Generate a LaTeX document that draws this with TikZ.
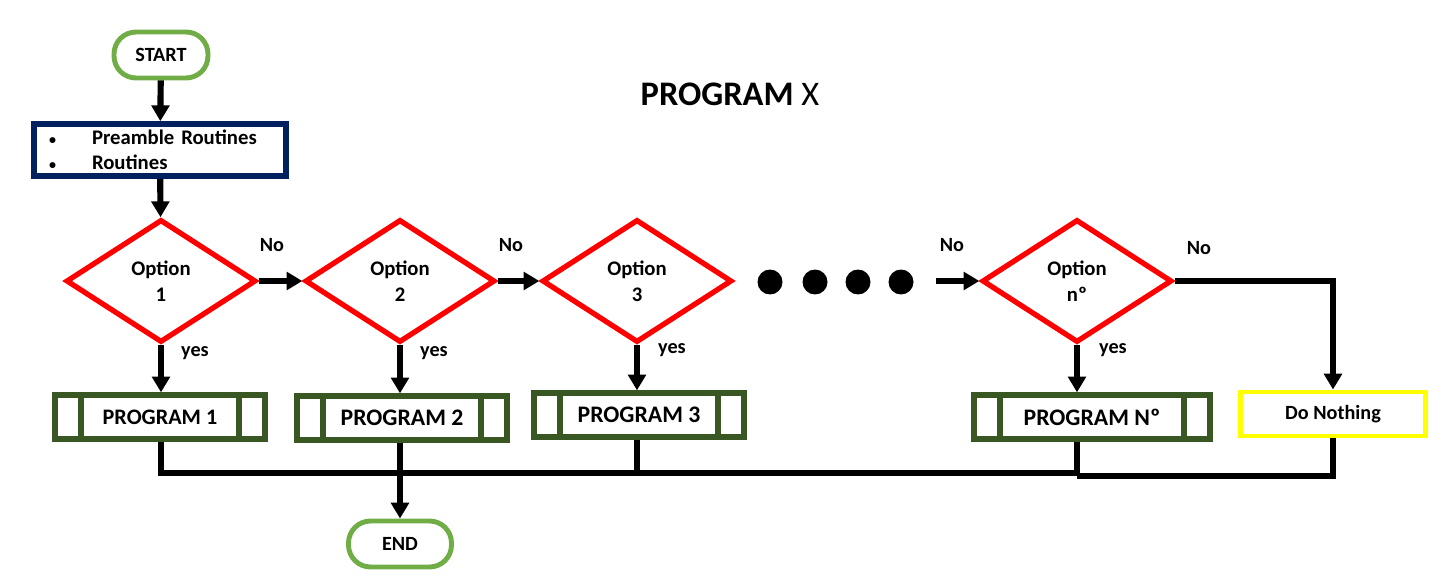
\documentclass[tikz,border=0pt]{standalone}
\usepackage{fontspec}
\setmainfont{Carlito}
\usetikzlibrary{shapes.geometric, arrows.meta, positioning}
\definecolor{termgreen}{RGB}{112,173,71}
\definecolor{prenavy}{RGB}{0,32,96}
\definecolor{progreen}{RGB}{56,87,35}
\definecolor{optred}{RGB}{255,0,0}
\definecolor{noyellow}{RGB}{255,255,0}

\begin{document}
\begin{tikzpicture}[x=0.02cm, y=-0.02cm, >={Triangle[length=9pt,width=10pt]},
    font=\bfseries\fontsize{11.5}{14}\selectfont,
    terminal/.style={draw=termgreen, line width=2.8pt, rounded corners=0.44cm, minimum height=0.92cm, inner sep=0pt},
    decision/.style={diamond, draw=optred, line width=3pt, minimum width=3.8cm, minimum height=2.46cm, inner sep=0pt, align=center, font=\bfseries\fontsize{11.8}{14.8}\selectfont},
    subprog/.style={draw=progreen, line width=3pt, minimum width=4.2cm, minimum height=0.88cm, inner sep=0pt, font=\bfseries\fontsize{13.5}{15}\selectfont,
      path picture={\draw[progreen, line width=3pt]
        ([xshift=0.52cm]path picture bounding box.north west) -- ([xshift=0.52cm]path picture bounding box.south west)
        ([xshift=-0.52cm]path picture bounding box.north east) -- ([xshift=-0.52cm]path picture bounding box.south east);}},
    flow/.style={line width=3.5pt},
    lbl/.style={font=\bfseries\fontsize{11.5}{13}\selectfont}]
      \useasboundingbox (0,0) rectangle (1455,588);
      % Start and preamble
      \node[terminal, minimum width=1.88cm] (start) at (161,55) {START};
      \node[draw=prenavy, line width=3.2pt, text width=4.44cm, minimum height=1.04cm, inner xsep=0.3cm, inner ysep=0pt, align=left,
        font=\bfseries\fontsize{11.8}{14}\selectfont] (pre) at (160,150)
        {\makebox[0.86cm][l]{\fontsize{8}{8}\selectfont\textbullet}Preamble Routines\\\makebox[0.86cm][l]{\fontsize{8}{8}\selectfont\textbullet}Routines};
      \node (title) at (730,94) {\fontsize{19.6}{22}\selectfont PROGRAM \mdseries X};
      % Options
      \node[decision] (opt1) at (161,281) {Option\\1};
      \node[decision] (opt2) at (400,281) {Option\\2};
      \node[decision] (opt3) at (637,281) {Option\\3};
      \node[decision] (optn) at (1077,281) {Option\\nº};
      \foreach \x in {770,815,858,901}{
        \fill (\x,282) circle (0.25cm);
      }
      \coordinate (dotsend) at (936,281);
      % Programs
      \node[subprog, font=\bfseries\fontsize{12.6}{14}\selectfont] (prog1) at (160,417) {PROGRAM 1};
      \node[subprog] (prog2) at (402,418) {PROGRAM 2};
      \node[subprog] (prog3) at (639,415) {PROGRAM 3};
      \node[subprog, minimum width=4.72cm] (progn) at (1092,417) {PROGRAM Nº};
      \node[draw=noyellow, line width=2.8pt, minimum width=3.7cm, minimum height=0.88cm, inner sep=0pt] (none) at (1333,414) {Do Nothing};
      \node[terminal, minimum width=2.06cm] (end) at (400,544) {END};
      % Labels
      \node[lbl] (no1) at (272,245) {No};
      \node[lbl] (no2) at (511,245) {No};
      \node[lbl] (no3) at (952,245) {No};
      \node[lbl] (no4) at (1199,248) {No};
      \node[lbl] (yes1) at (195,353) {yes};
      \node[lbl] (yes2) at (434,353) {yes};
      \node[lbl] (yes3) at (672,350) {yes};
      \node[lbl] (yes4) at (1113,350) {yes};
      % Connectors
      \draw[flow,->] (start) -- (pre);
      \draw[flow,->] (pre) -- (opt1);
      \draw[flow,->] (opt1.east) -- (opt2.west);
      \draw[flow,->] (opt2.east) -- (opt3.west);
      \draw[flow,->] (dotsend) -- (optn.west);
      \draw[flow,->] (optn.east) -| (none.north);
      \foreach \o/\p in {opt1/prog1, opt2/prog2, opt3/prog3, optn/progn}{
        \draw[flow,->] (\o.south) -- (\o.south |- \p.north);
      }
      \coordinate (merge) at (400,473);
      \draw[flow] (opt1.south |- prog1.south) |- (optn.south |- merge) -- (optn.south |- progn.south);
      \draw[flow] (opt3.south |- prog3.south) -- (opt3.south |- merge);
      \draw[flow] (none.south) |- ([yshift=-1.7pt]optn.south |- merge);
      \draw[flow,->] (opt2.south |- prog2.south) -- (end);
\end{tikzpicture}
\end{document}
